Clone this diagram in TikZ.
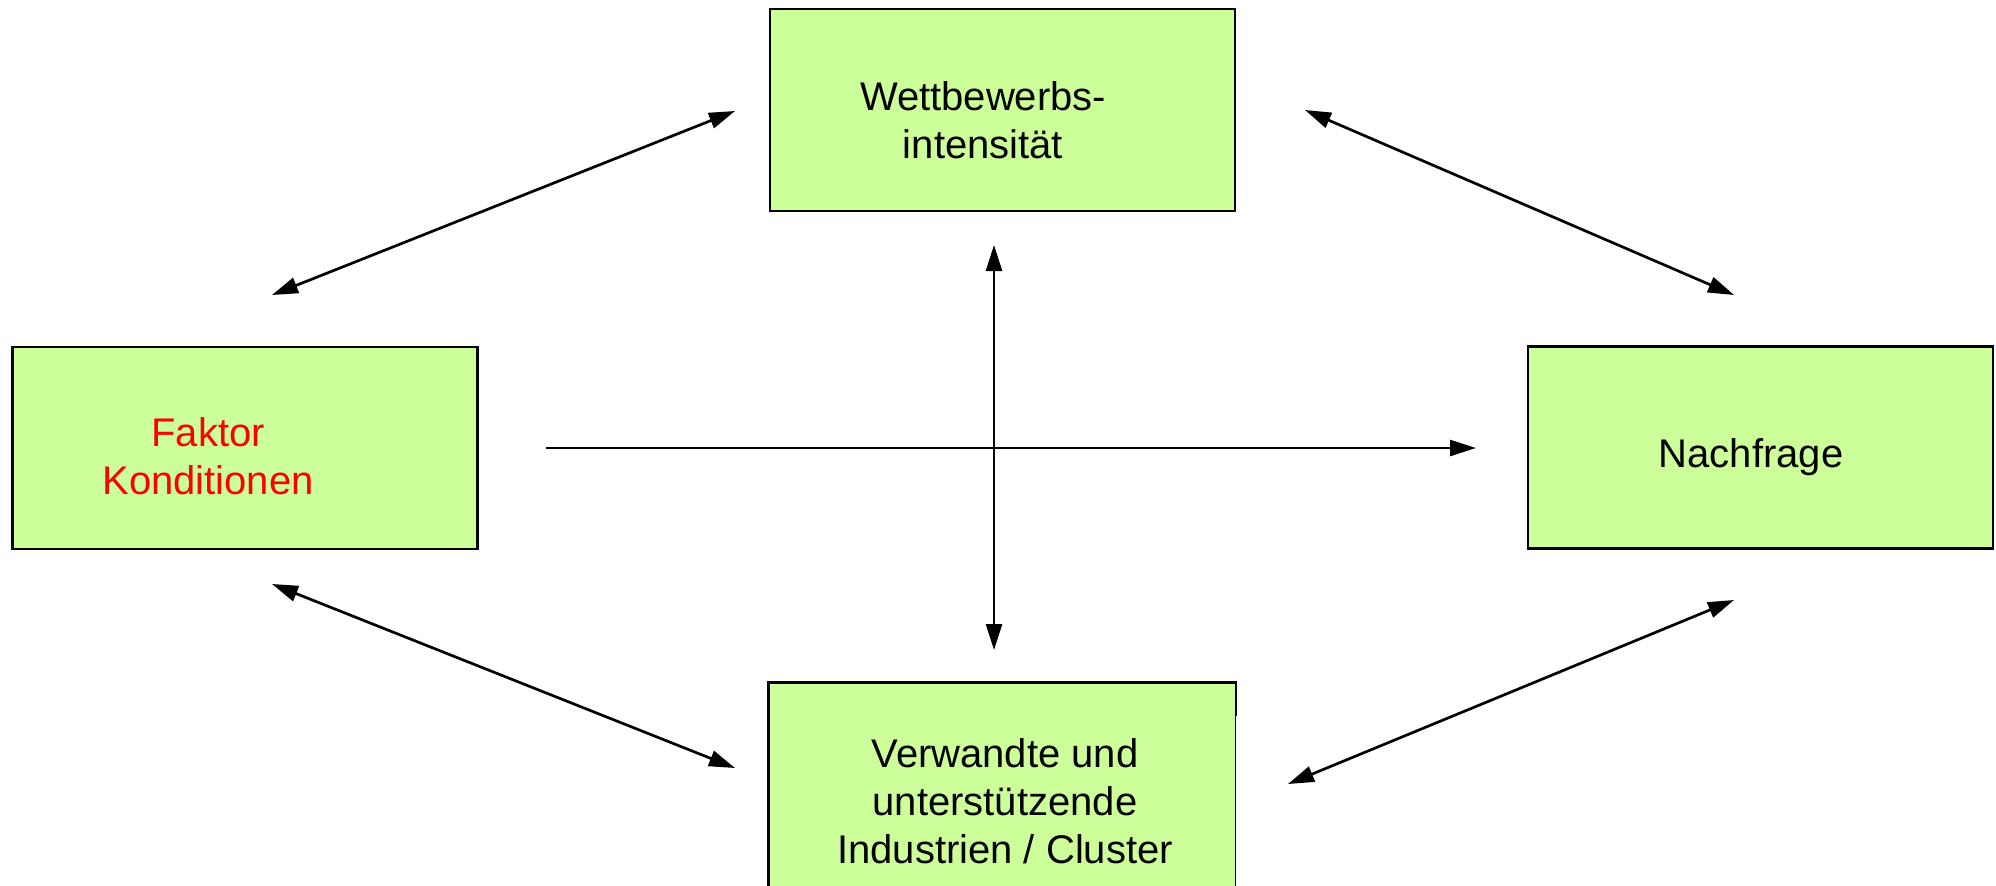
\documentclass[tikz,border=0pt]{standalone}
\usepackage{fontspec}
\setmainfont{Liberation Sans}
\usetikzlibrary{arrows.meta}
\definecolor{boxgreen}{HTML}{CCFF99}
\definecolor{factred}{HTML}{FF0000}

\begin{document}
\begin{tikzpicture}[x=0.5pt,y=-0.5pt,
  box/.style={rectangle, draw=black, line width=1.3pt, fill=boxgreen, inner sep=0pt,
              minimum width=232.5pt, minimum height=101pt},
  lbl/.style={font=\fontsize{20pt}{24pt}\selectfont, align=center, inner sep=0pt},
  link/.style={line width=1.35pt, {Triangle[length=13pt,width=8pt]}-{Triangle[length=13pt,width=8pt]}},
  onelink/.style={line width=1.35pt, -{Triangle[length=13pt,width=8pt]}}]

  \useasboundingbox (0,0) rectangle (1996,885);

  % the four determinants
  \node[box] (wb)  at (1002.5,110) {};
  \node[box] (fk)  at (245,448) {};
  \node[box] (nf)  at (1760.5,447.5) {};
  \node[box, draw=none, minimum height=115pt] (ind) at (1002,799) {};
  \draw[line width=1.3pt] (ind.south west) -- (ind.north west) -- (ind.north east) -- ++(0,33);
  \draw[line width=0.5pt] (ind.north east) ++(0,33) -- (ind.south east);

  % labels
  \node[lbl] (wbt) at (983,120) {Wettbewerbs-\\intensität};
  \node[lbl, text=factred] (fkt) at (208,456) {Faktor\\Konditionen};
  \node[lbl, anchor=base] (nft) at (1751,467) {Nachfrage};
  \node[lbl] (indt) at (1005,801) {Verwandte und\\unterstützende\\Industrien / Cluster};

  % connector end points
  \coordinate (a1s) at (272,295);  \coordinate (a1e) at (735,111);
  \coordinate (a2s) at (1305,110); \coordinate (a2e) at (1734,295);
  \coordinate (a3s) at (272,584);  \coordinate (a3e) at (735,768);
  \coordinate (a4s) at (1734,600); \coordinate (a4e) at (1288,784);
  \coordinate (vs)  at (994,245);  \coordinate (ve)  at (994,650);
  \coordinate (hs)  at (546,448);  \coordinate (he)  at (1476,448);

  % interactions
  \draw[link] (a1s) -- (a1e);
  \draw[link] (a2s) -- (a2e);
  \draw[link] (a3s) -- (a3e);
  \draw[link] (a4s) -- (a4e);
  \draw[link] (vs) -- (ve);
  \draw[onelink] (hs) -- (he);
\end{tikzpicture}
\end{document}
